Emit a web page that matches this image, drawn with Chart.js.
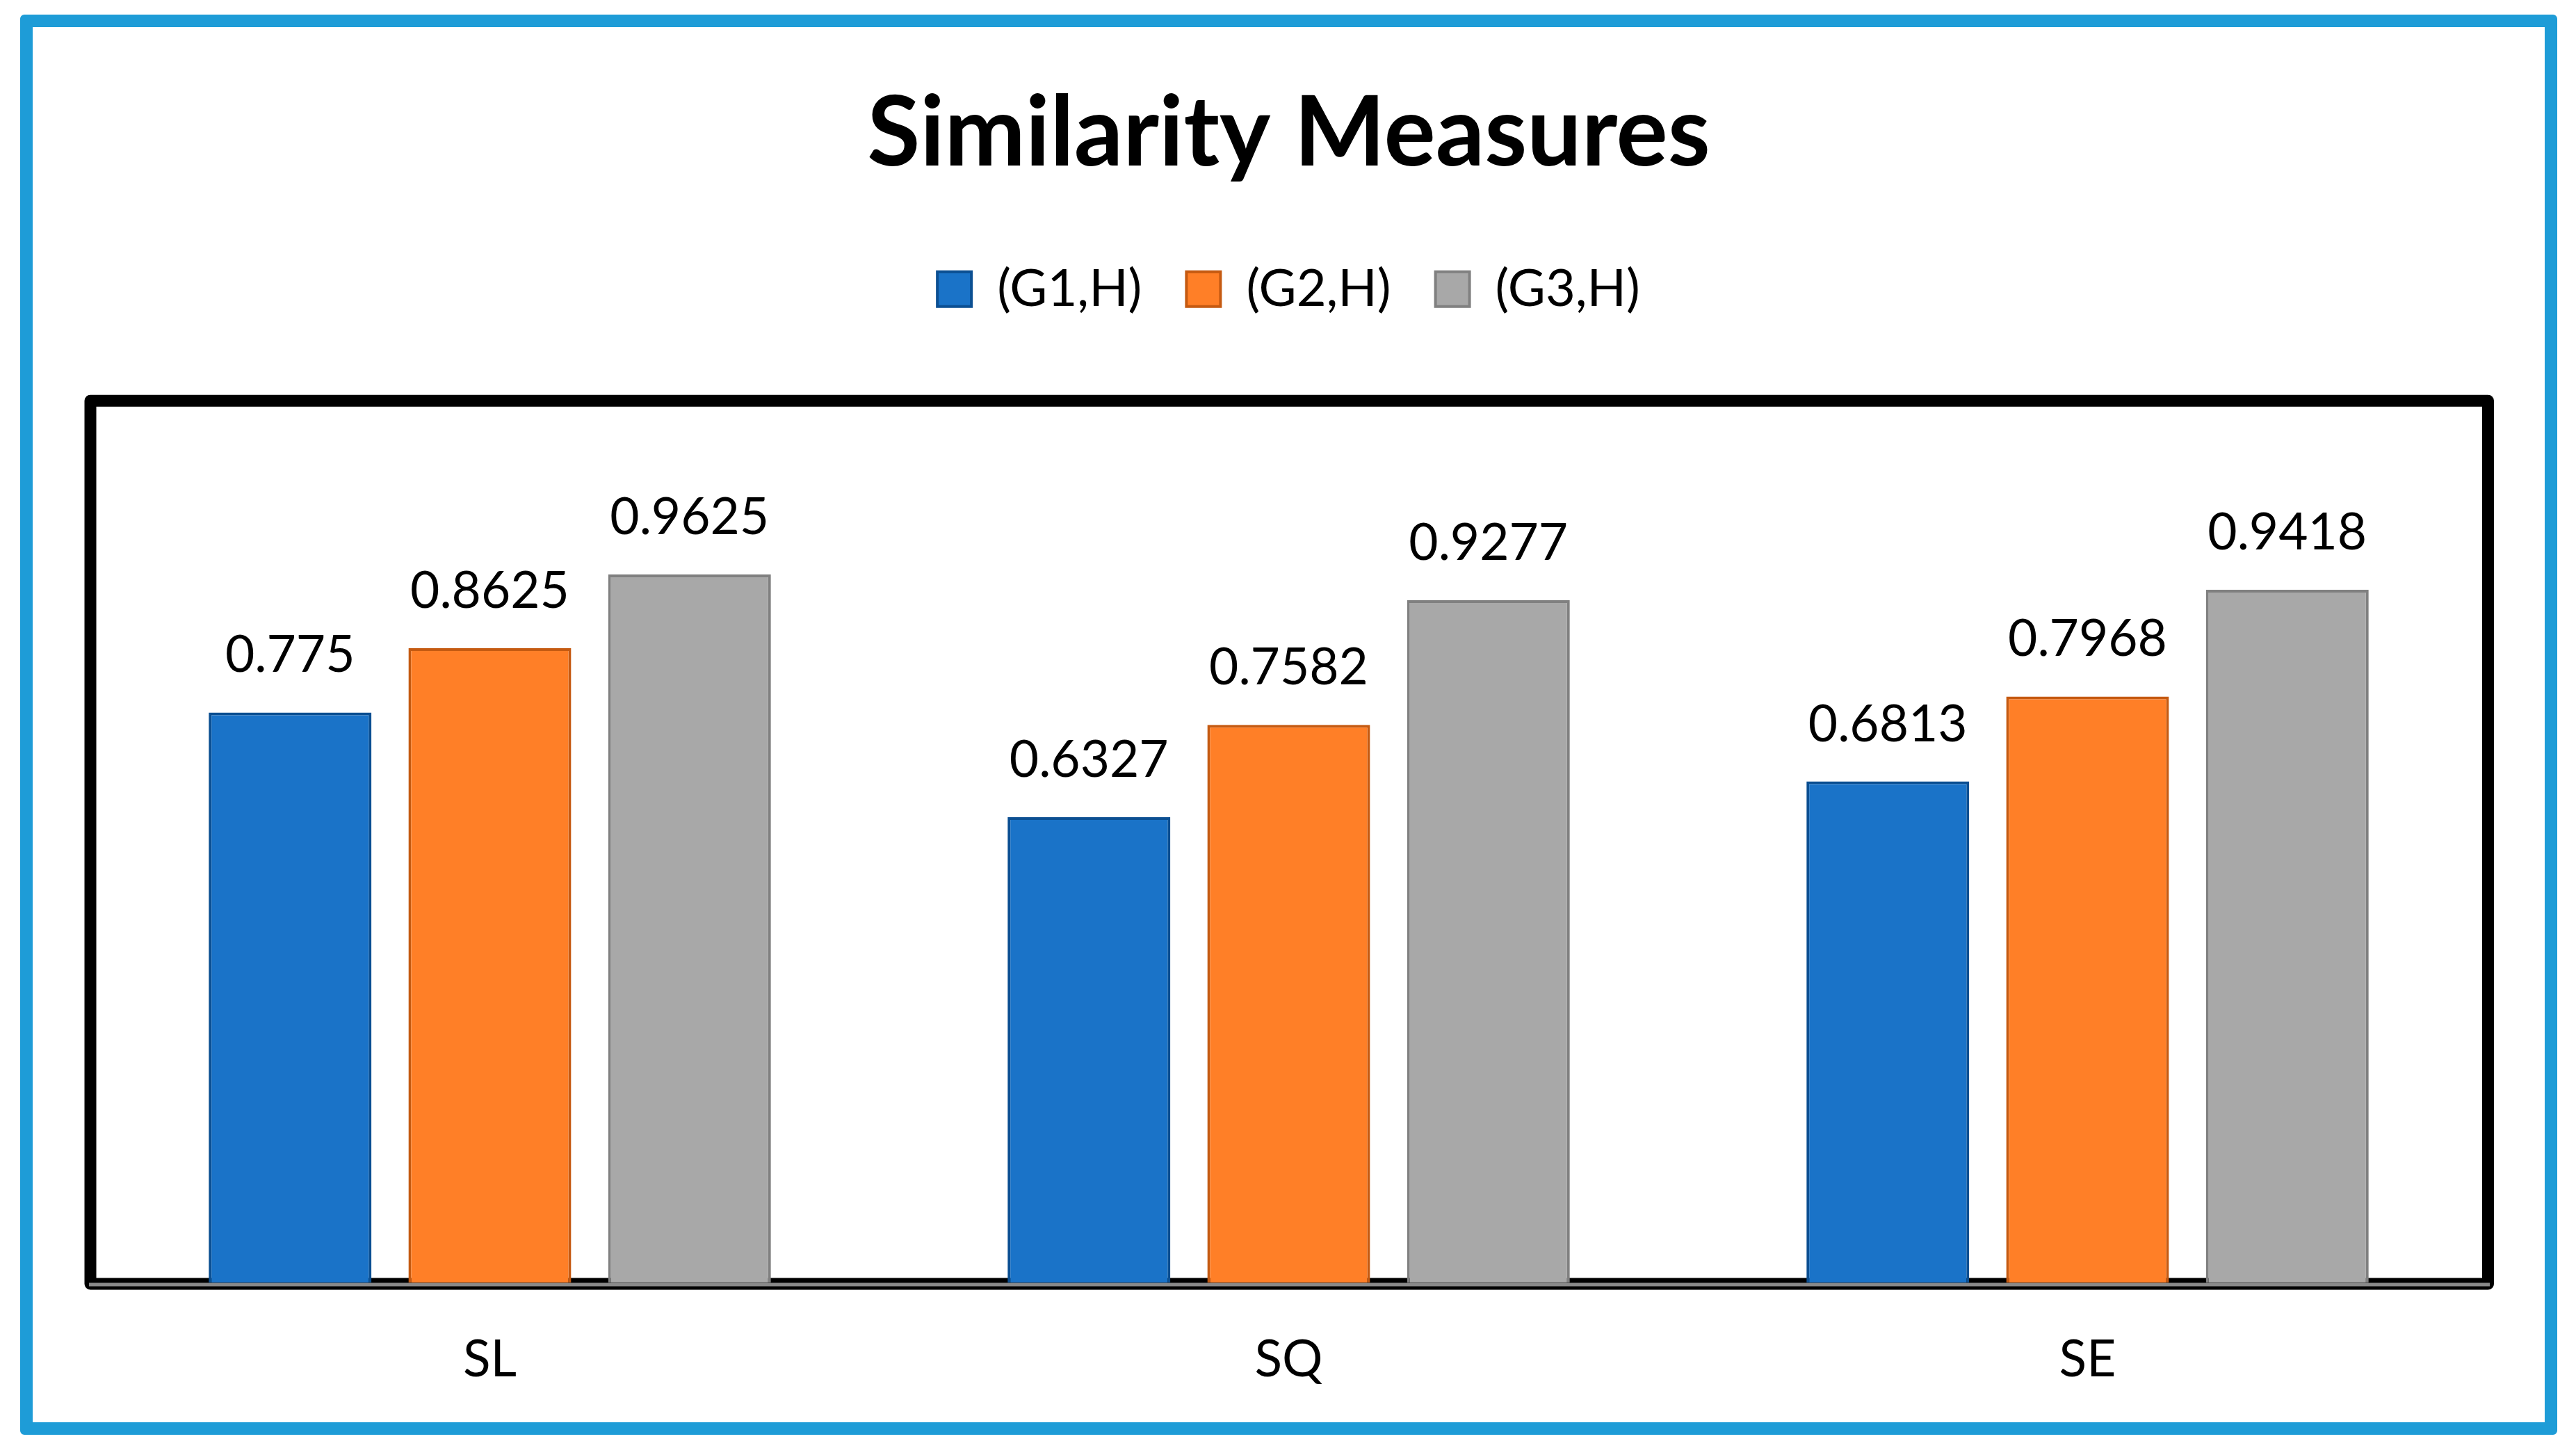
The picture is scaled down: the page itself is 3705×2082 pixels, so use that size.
<!DOCTYPE html>
<html>
<head>
<meta charset="utf-8">
<title>Similarity Measures</title>
<script src="https://cdn.jsdelivr.net/npm/chart.js@4.4.1/dist/chart.umd.min.js"></script>
<style>
  html, body { margin: 0; padding: 0; background: #fff; }
  #wrap { position: relative; width: 3705px; height: 2082px; }
  #frame {
    position: absolute; left: 29px; top: 21px; width: 3649px; height: 2042px;
    box-sizing: border-box; border: 18px solid #1E9CD7; border-radius: 6px;
  }
  #myChart { position: absolute; left: 0; top: 0; }
</style>
</head>
<body>
<div id="wrap">
  <div id="frame"></div>
  <canvas id="myChart" width="3705" height="2082"></canvas>
</div>
<script>
const categories = ['SL', 'SQ', 'SE'];
const seriesNames = ['(G1,H)', '(G2,H)', '(G3,H)'];
const g1Values = [0.775, 0.6327, 0.6813];
const g2Values = [0.8625, 0.7582, 0.7968];
const g3Values = [0.9625, 0.9277, 0.9418];
const yMin = 0;
const yMax = 1.2;

const fills = ['#1A73C8', '#FF7F27', '#A8A8A8'];
const edges = ['#0B4F92', '#C55A11', '#808080'];
const FONT = 'Lato';

// empty box under the legend, so the plot starts lower
const spacer = {
  id: 'spacer',
  beforeInit(chart) {
    const box = {
      position: 'top', weight: 100, fullSize: true, options: {},
      isHorizontal() { return true; },
      update(w) { this.width = w; this.height = 112; },
      draw() {}
    };
    Chart.layouts.addBox(chart, box);
  }
};

// black frame round the plot and grey axis line
const plotFrame = {
  id: 'plotFrame',
  beforeDatasetsDraw(chart) {
    const {ctx, chartArea: a} = chart;
    ctx.save();
    ctx.strokeStyle = '#000';
    ctx.lineWidth = 17;
    ctx.lineJoin = 'round';
    ctx.strokeRect(a.left, a.top + 1.5, a.right - a.left + 1.5, a.bottom - a.top);
    ctx.strokeStyle = '#898989';
    ctx.lineWidth = 5;
    ctx.beginPath();
    ctx.moveTo(a.left - 2, a.bottom + 2.5);
    ctx.lineTo(a.right + 4, a.bottom + 2.5);
    ctx.stroke();
    ctx.restore();
  }
};

// value above each bar
const barValues = {
  id: 'barValues',
  afterDatasetsDraw(chart) {
    const {ctx} = chart;
    ctx.save();
    ctx.font = '73px ' + FONT;
    ctx.fillStyle = '#000';
    ctx.textAlign = 'center';
    ctx.textBaseline = 'alphabetic';
    chart.data.datasets.forEach((ds, i) => {
      chart.getDatasetMeta(i).data.forEach((bar, j) => {
        ctx.fillText(String(ds.data[j]), bar.x, bar.y - 58);
      });
    });
    ctx.restore();
  }
};

const ctx = document.getElementById('myChart');

const myChart = new Chart(ctx, {
  type: 'bar',
  data: {
    labels: categories,
    datasets: [g1Values, g2Values, g3Values].map((vals, i) => ({
      label: seriesNames[i],
      data: vals,
      backgroundColor: fills[i],
      borderColor: edges[i],
      borderWidth: 4,
      categoryPercentage: 0.75,
      barPercentage: 0.815
    }))
  },
  options: {
    responsive: false,
    devicePixelRatio: 1,
    animation: false,
    layout: { padding: { top: 38, left: 130, right: 128, bottom: 16 } },
    plugins: {
      title: {
        display: true,
        text: 'Similarity Measures',
        color: '#000',
        font: { family: FONT, size: 139, weight: 'bold', lineHeight: 1.2 },
        padding: { top: 72, bottom: 38 }
      },
      legend: {
        position: 'top',
        labels: {
          color: '#000',
          font: { family: FONT, size: 74 },
          boxWidth: 49,
          boxHeight: 50,
          padding: 64
        }
      },
      tooltip: { enabled: false }
    },
    scales: {
      x: {
        grid: { display: false, drawTicks: false },
        border: { display: false },
        ticks: { color: '#000', font: { family: FONT, size: 73, lineHeight: 1.2 }, padding: 67 }
      },
      y: {
        display: false,
        min: yMin,
        max: yMax
      }
    }
  },
  plugins: [spacer, plotFrame, barValues]
});
</script>
</body>
</html>
